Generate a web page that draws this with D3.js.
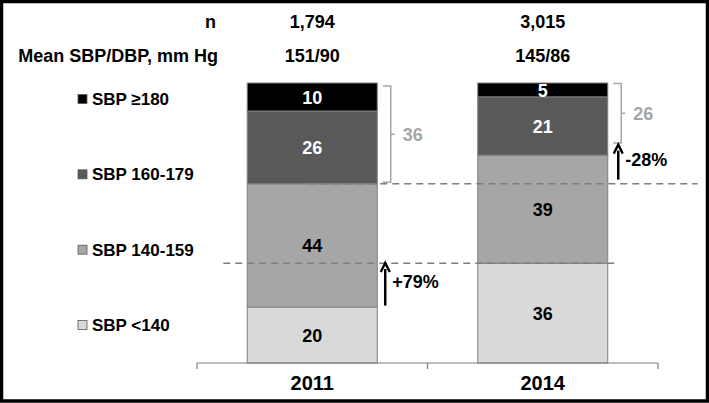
<!DOCTYPE html>
<html>
<head>
<meta charset="utf-8">
<script src="https://cdn.jsdelivr.net/npm/d3@7"></script>
<style>
  html, body { margin: 0; padding: 0; background: #fff; }
  svg { display: block; }
  text { font-family: "Liberation Sans", Arial, sans-serif; font-weight: bold; }
</style>
</head>
<body>
<svg id="chart" width="709" height="403"></svg>
<script>
// ---- data ----
const years = ["2011", "2014"];
const nValues = ["1,794", "3,015"];
const meanBP = ["151/90", "145/86"];
const categories = ["SBP <140", "SBP 140-159", "SBP 160-179", "SBP \u2265180"];
const sbpLt140 = [20, 36];
const sbp140to159 = [44, 39];
const sbp160to179 = [26, 21];
const sbpGe180 = [10, 5];
const colors = ["#d9d9d9", "#a6a6a6", "#595959", "#000000"];
const labelColors = ["#000", "#000", "#fff", "#fff"];
// annotations (fractions of the bar height)
const bracketTop = [1.0, 1.0];
const bracketBottom = [0.64, 0.786];
const bracketLabels = ["36", "26"];
const arrowFrom = [0.205, 0.655];
const arrowTo = [0.357, 0.78];
const arrowLabels = ["+79%", "-28%"];

// ---- setup ----
const svg = d3.select("#chart");
const W = 709, H = 403;

svg.append("rect").attr("x", 1.5).attr("y", 1.5).attr("width", W - 3).attr("height", H - 3.5)
  .attr("fill", "#fff").attr("stroke", "#000").attr("stroke-width", 3.5);

const x = d3.scaleBand().domain(years).range([197, 658]).padding(0);
const xb = d3.scaleBand().domain(years).range([197, 658]).paddingInner(0.436).paddingOuter(0.218);
const y = d3.scaleLinear().domain([0, 1]).range([363, 83]);

const series = [sbpLt140, sbp140to159, sbp160to179, sbpGe180];
const keys = categories;
const rows = years.map((yr, i) => {
  const r = { year: yr };
  keys.forEach((k, j) => r[k] = series[j][i]);
  return r;
});
const stacked = d3.stack().keys(keys).offset(d3.stackOffsetExpand)(rows);

// ---- bars ----
const g = svg.append("g");
stacked.forEach((s, j) => {
  g.selectAll(null).data(s).enter().append("rect")
    .attr("x", d => xb(d.data.year))
    .attr("width", xb.bandwidth())
    .attr("y", d => y(d[1]))
    .attr("height", d => y(d[0]) - y(d[1]))
    .attr("fill", colors[j])
    .attr("stroke", "#7f7f7f").attr("stroke-width", 1);
});
stacked.forEach((s, j) => {
  g.selectAll(null).data(s).enter().append("text")
    .attr("x", d => xb(d.data.year) + xb.bandwidth() / 2)
    .attr("y", d => (y(d[0]) + y(d[1])) / 2 + 1)
    .attr("text-anchor", "middle").attr("dominant-baseline", "central")
    .attr("font-size", 18).attr("fill", labelColors[j])
    .text(d => d.data[keys[j]]);
});

// ---- dashed reference lines ----
const bw = xb.bandwidth();
const line1Y = y(stacked[0][1][1]);
const line2Y = y(stacked[1][0][1]);
svg.append("line").attr("x1", xb("2011") - 24).attr("x2", xb("2014") + bw + 11)
  .attr("y1", line1Y).attr("y2", line1Y)
  .attr("stroke", "#7f7f7f").attr("stroke-width", 1.6).attr("stroke-dasharray", "7,5");
svg.append("line").attr("x1", xb("2011") + bw / 2 - 4).attr("x2", xb("2014") + bw + 90)
  .attr("y1", line2Y).attr("y2", line2Y)
  .attr("stroke", "#7f7f7f").attr("stroke-width", 1.6).attr("stroke-dasharray", "7,5");

// ---- brackets ----
years.forEach((yr, i) => {
  const bx = xb(yr) + bw + 13.5;
  const t = y(bracketTop[i]) + (i === 0 ? 3 : 0.5), b = y(bracketBottom[i]) - (i === 0 ? 1.5 : 0);
  const m = (t + b) / 2;
  svg.append("path")
    .attr("d", `M${bx - 8},${t} H${bx} V${b} H${bx - 8} M${bx},${m} H${bx + 4}`)
    .attr("fill", "none").attr("stroke", "#a6a6a6").attr("stroke-width", 1.5);
  svg.append("text").attr("x", bx + 12).attr("y", m + 1)
    .attr("dominant-baseline", "central").attr("font-size", 18).attr("fill", "#a6a6a6")
    .text(bracketLabels[i]);
});

// ---- arrows ----
years.forEach((yr, i) => {
  const ax = xb(yr) + bw + (i === 0 ? 8 : 10.5);
  const y0 = y(arrowFrom[i]), y1 = y(arrowTo[i]);
  svg.append("line").attr("x1", ax).attr("x2", ax).attr("y1", y0).attr("y2", y1 + 6)
    .attr("stroke", "#000").attr("stroke-width", 2.5);
  svg.append("path").attr("d", `M${ax - 4.5},${y1 + 9} L${ax},${y1} L${ax + 4.5},${y1 + 9}`)
    .attr("fill", "none").attr("stroke", "#000").attr("stroke-width", 2.4)
    .attr("stroke-linejoin", "miter");
  svg.append("text").attr("x", ax + 7).attr("y", (y0 + y1) / 2 - 2)
    .attr("dominant-baseline", "central").attr("font-size", 18).attr("fill", "#000")
    .text(arrowLabels[i]);
});

// ---- x axis ----
const axisG = svg.append("g").attr("transform", "translate(0,363)");
axisG.append("line").attr("x1", x.range()[0]).attr("x2", x.range()[1])
  .attr("stroke", "#7f7f7f").attr("stroke-width", 1.2);
const bounds = years.map(d => x(d)).concat([x.range()[1]]);
axisG.selectAll(null).data(bounds).enter().append("line")
  .attr("x1", d => d).attr("x2", d => d).attr("y1", 0).attr("y2", 6)
  .attr("stroke", "#7f7f7f").attr("stroke-width", 1.2);
const xAxis = d3.axisBottom(x).tickSize(0).tickPadding(13);
const ax = svg.append("g").attr("transform", "translate(0,363)").call(xAxis);
ax.select(".domain").remove();
ax.selectAll("text").attr("font-size", 20).attr("fill", "#000")
  .style("font-family", "'Liberation Sans', Arial, sans-serif").style("font-weight", "bold");

// ---- header rows ----
svg.append("text").attr("x", 216).attr("y", 22).attr("text-anchor", "end")
  .attr("dominant-baseline", "central").attr("font-size", 18).text("n");
svg.append("text").attr("x", 218).attr("y", 56).attr("text-anchor", "end")
  .attr("dominant-baseline", "central").attr("font-size", 18).text("Mean SBP/DBP, mm Hg");
svg.selectAll(null).data(years).enter().append("text")
  .attr("x", d => x(d) + x.bandwidth() / 2).attr("y", 22)
  .attr("text-anchor", "middle").attr("dominant-baseline", "central").attr("font-size", 18)
  .text((d, i) => nValues[i]);
svg.selectAll(null).data(years).enter().append("text")
  .attr("x", d => x(d) + x.bandwidth() / 2).attr("y", 56)
  .attr("text-anchor", "middle").attr("dominant-baseline", "central").attr("font-size", 18)
  .text((d, i) => meanBP[i]);

// ---- legend ----
const legendOrder = [3, 2, 1, 0];
const ly = d3.scalePoint().domain(legendOrder).range([99, 325]);
const leg = svg.selectAll(null).data(legendOrder).enter().append("g")
  .attr("transform", d => `translate(78,${ly(d)})`);
leg.append("rect").attr("x", 0).attr("y", -4.5).attr("width", 9).attr("height", 9)
  .attr("fill", d => colors[d]).attr("stroke", "#595959").attr("stroke-width", 0.8);
leg.append("text").attr("x", 14).attr("y", 0.5).attr("dominant-baseline", "central")
  .attr("font-size", 17).attr("fill", "#000").text(d => categories[d]);
</script>
</body>
</html>
